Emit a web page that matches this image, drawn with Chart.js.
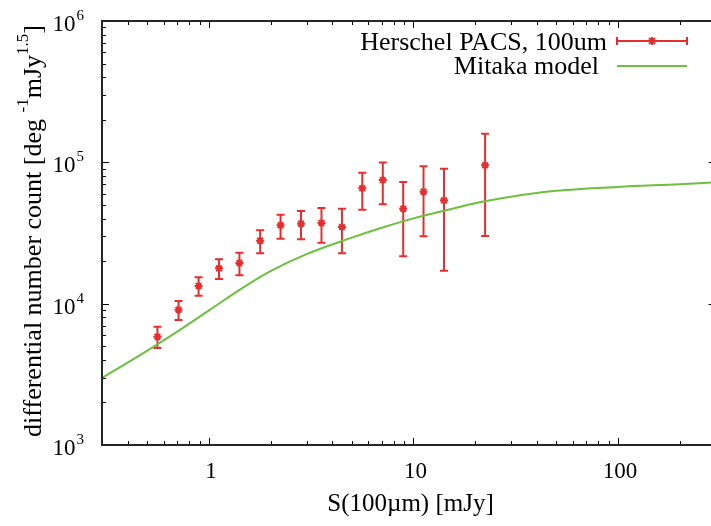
<!DOCTYPE html>
<html>
<head>
<meta charset="utf-8">
<script src="https://cdn.jsdelivr.net/npm/chart.js@4/dist/chart.umd.min.js"></script>
<style>
  body { margin: 0; background: #fff; }
  canvas { display: block; }
</style>
</head>
<body>
<canvas id="grafico" width="711" height="526"></canvas>
<script>
// dados (Herschel PACS 100um)
const fluxos = [0.56, 0.71, 0.89, 1.12, 1.41, 1.78, 2.24, 2.82, 3.55, 4.47, 5.62, 7.08, 8.91, 11.2, 14.1, 22.4];
const contagens = [5840, 9060, 13340, 17780, 19400, 27920, 35900, 36830, 37260, 34870, 65480, 74950, 46980, 61940, 53830, 95280];
const contagensMin = [4850, 7650, 11380, 14940, 15880, 22710, 28840, 28510, 26980, 22710, 46240, 50470, 21630, 29990, 17100, 30130];
const contagensMax = [6870, 10440, 15350, 20600, 22950, 33050, 42600, 45290, 47550, 46980, 84540, 99760, 72610, 93750, 90140, 159600];

// modelo Mitaka
const fluxosModelo = [0.3, 0.5, 0.7, 1, 1.5, 2, 3, 5, 7, 10, 15, 20, 30, 50, 100, 200, 300];
const contagensModelo = [2980, 4660, 6340, 8960, 13250, 16980, 22390, 29320, 34420, 40130, 46340, 51380, 57150, 62830, 67000, 70000, 72200];

// ticks
const ticksX = [1, 10, 100];
const rotulosX = ["1", "10", "100"];
const expoentesY = [3, 4, 5, 6];

const vermelho = "#e62e2e";
const verde = "#6cbf3f";
const fonte = "Liberation Serif";

// barras de erro, eixos e legenda no estilo gnuplot
const estiloGnuplot = {
    id: "estiloGnuplot",
    beforeDatasetsDraw(chart) {
        const ctx = chart.ctx;
        const x = chart.scales.x, y = chart.scales.y;
        ctx.save();
        ctx.beginPath();
        ctx.rect(chart.chartArea.left, chart.chartArea.top, chart.chartArea.right - chart.chartArea.left, chart.chartArea.bottom - chart.chartArea.top);
        ctx.clip();
        ctx.strokeStyle = vermelho;
        ctx.lineWidth = 2;
        for (let i = 0; i < fluxos.length; i++) {
            const px = x.getPixelForValue(fluxos[i]);
            const y1 = y.getPixelForValue(contagensMin[i]);
            const y2 = y.getPixelForValue(contagensMax[i]);
            ctx.beginPath();
            ctx.moveTo(px, y1); ctx.lineTo(px, y2);
            ctx.moveTo(px - 4, y1); ctx.lineTo(px + 4, y1);
            ctx.moveTo(px - 4, y2); ctx.lineTo(px + 4, y2);
            ctx.stroke();
        }
        ctx.restore();
    },
    afterDraw(chart) {
        const ctx = chart.ctx;
        const area = chart.chartArea;
        const x = chart.scales.x, y = chart.scales.y;
        const direita = x.getPixelForValue(300);
        ctx.save();

        // ticks
        ctx.strokeStyle = "#000";
        ctx.lineWidth = 1;
        ctx.beginPath();
        for (let d = -1; d <= 3; d++) {
            for (let m = 1; m <= 9; m++) {
                const v = m * Math.pow(10, d);
                if (v < 0.3 || v > 300) continue;
                const px = Math.round(x.getPixelForValue(v)) + 0.5;
                const len = m === 1 ? 7 : 4;
                ctx.moveTo(px, area.bottom); ctx.lineTo(px, area.bottom - len);
                ctx.moveTo(px, area.top); ctx.lineTo(px, area.top + len);
            }
        }
        for (let d = 3; d <= 6; d++) {
            for (let m = 1; m <= 9; m++) {
                const v = m * Math.pow(10, d);
                if (v > 1e6) continue;
                const py = Math.round(y.getPixelForValue(v)) + 0.5;
                const len = m === 1 ? 7 : 4;
                ctx.moveTo(area.left, py); ctx.lineTo(area.left + len, py);
                ctx.moveTo(direita, py); ctx.lineTo(direita - len, py);
            }
        }
        ctx.stroke();

        // borda
        ctx.strokeStyle = "#262626";
        ctx.lineWidth = 2;
        ctx.beginPath();
        ctx.moveTo(direita, area.top);
        ctx.lineTo(area.left, area.top);
        ctx.lineTo(area.left, area.bottom);
        ctx.lineTo(direita, area.bottom);
        ctx.stroke();

        // rótulos do eixo y (10^n)
        ctx.fillStyle = "#000";
        expoentesY.forEach(n => {
            const py = y.getPixelForValue(Math.pow(10, n));
            ctx.font = "23px '" + fonte + "'";
            ctx.textAlign = "right";
            ctx.textBaseline = "middle";
            ctx.fillText("10", 75.5, py + 4);
            ctx.font = "15px '" + fonte + "'";
            ctx.textAlign = "left";
            ctx.fillText(String(n), 76.5, py - 5);
        });

        // rótulos do eixo x
        ctx.font = "23px '" + fonte + "'";
        ctx.textAlign = "center";
        ctx.textBaseline = "middle";
        ticksX.forEach((v, i) => {
            ctx.fillText(rotulosX[i], x.getPixelForValue(v) + 2, 472);
        });

        // título do eixo x
        ctx.font = "25px '" + fonte + "'";
        ctx.textBaseline = "alphabetic";
        ctx.fillText("S(100\u00b5m) [mJy]", 410.5, 511);

        // título do eixo y, com sobrescritos
        const partes = [
            { t: "differential number count [deg ", s: false },
            { t: "-1", s: true },
            { t: "mJy", s: false },
            { t: "1.5", s: true },
            { t: "]", s: false }
        ];
        let total = 0;
        partes.forEach(p => {
            ctx.font = (p.s ? "17px '" : "26px '") + fonte + "'";
            p.w = ctx.measureText(p.t).width;
            total += p.w;
        });
        ctx.translate(41, 231);
        ctx.rotate(-Math.PI / 2);
        ctx.textAlign = "left";
        let pos = -total / 2;
        partes.forEach(p => {
            ctx.font = (p.s ? "17px '" : "26px '") + fonte + "'";
            ctx.fillText(p.t, pos, p.s ? -13 : 0);
            pos += p.w;
        });
        ctx.setTransform(1, 0, 0, 1, 0, 0);

        // legenda
        ctx.font = "26px '" + fonte + "'";
        ctx.textAlign = "right";
        ctx.fillText("Herschel PACS, 100um", 607, 50);
        ctx.fillText("Mitaka model", 599, 74);

        ctx.strokeStyle = vermelho;
        ctx.lineWidth = 2;
        ctx.beginPath();
        ctx.moveTo(617, 41); ctx.lineTo(687, 41);
        ctx.moveTo(617, 37); ctx.lineTo(617, 45);
        ctx.moveTo(687, 37); ctx.lineTo(687, 45);
        ctx.moveTo(648, 41); ctx.lineTo(656, 41);
        ctx.moveTo(652, 37); ctx.lineTo(652, 45);
        ctx.moveTo(649, 38); ctx.lineTo(655, 44);
        ctx.moveTo(655, 38); ctx.lineTo(649, 44);
        ctx.stroke();

        ctx.strokeStyle = verde;
        ctx.beginPath();
        ctx.moveTo(617, 66); ctx.lineTo(687, 66);
        ctx.stroke();

        ctx.restore();
    }
};

const ctx = document.getElementById("grafico").getContext("2d");

const grafico = new Chart(ctx, {
    type: "scatter",
    data: {
        datasets: [
            {
                label: "Herschel PACS, 100um",
                data: fluxos.map((f, i) => ({ x: f, y: contagens[i] })),
                showLine: false,
                pointStyle: "star",
                pointRadius: 4,
                borderColor: vermelho,
                backgroundColor: vermelho,
                borderWidth: 2
            },
            {
                label: "Mitaka model",
                data: fluxosModelo.map((f, i) => ({ x: f, y: contagensModelo[i] })),
                showLine: true,
                pointRadius: 0,
                borderColor: verde,
                borderWidth: 2,
                cubicInterpolationMode: "monotone",
                fill: false
            }
        ]
    },
    options: {
        responsive: false,
        animation: false,
        devicePixelRatio: 1,
        // sem autoPadding a área do gráfico vai até a borda direita
        layout: { autoPadding: false, padding: { left: 102, top: 21, right: 0, bottom: 81 } },
        plugins: {
            legend: { display: false },
            tooltip: { enabled: false }
        },
        scales: {
            x: {
                type: "logarithmic",
                min: 0.3,
                max: 285,
                display: false
            },
            y: {
                type: "logarithmic",
                min: 1000,
                max: 1000000,
                display: false
            }
        }
    },
    plugins: [estiloGnuplot]
});
</script>
</body>
</html>
